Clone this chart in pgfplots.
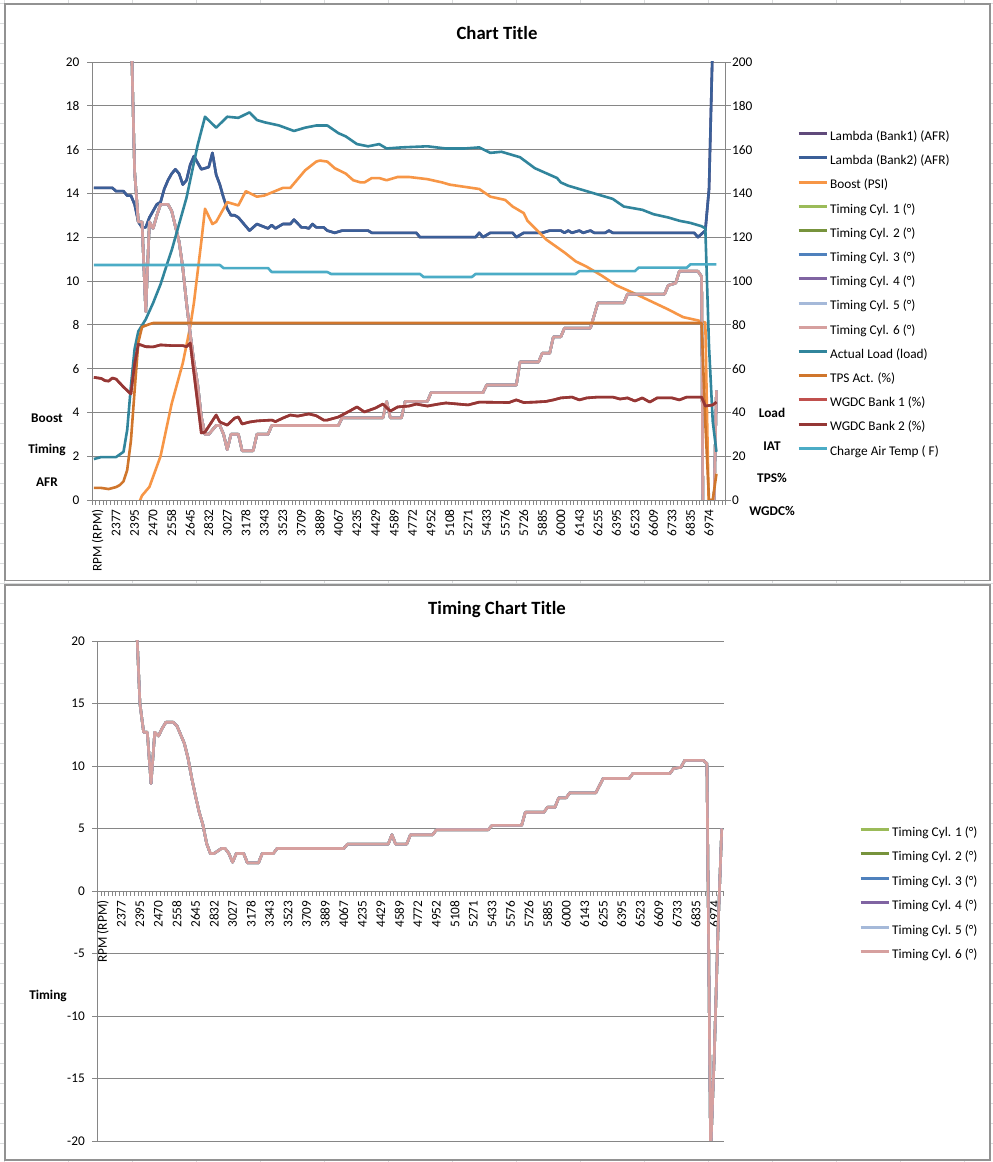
\documentclass[border=0pt]{standalone}
\usepackage{fontspec}
\setmainfont{Carlito}
\usepackage{pgfplots}
\pgfplotsset{compat=1.18}
\usepackage{pgfplotstable}

\definecolor{lamA}{HTML}{604A7B}
\definecolor{lamB}{HTML}{3B5F98}
\definecolor{boost}{HTML}{F79646}
\definecolor{tA}{HTML}{9BBB59}
\definecolor{tB}{HTML}{77933C}
\definecolor{tC}{HTML}{4F81BD}
\definecolor{tD}{HTML}{8064A2}
\definecolor{tE}{HTML}{A5B9D9}
\definecolor{tF}{HTML}{D6A09F}
\definecolor{load}{HTML}{31859C}
\definecolor{tps}{HTML}{D0762C}
\definecolor{wgA}{HTML}{C0504D}
\definecolor{wgB}{HTML}{953735}
\definecolor{cat}{HTML}{4BACC6}
\definecolor{gridc}{HTML}{868686}
\definecolor{sheet}{HTML}{DADCDD}

\pgfplotstableread{
i v
0 14.25
5 14.25
6 14.1
8 14.1
9 13.9
10 13.9
11 13.5
12 12.7
13 12.45
14 12.45
15 12.9
16 13.2
17 13.5
18 13.6
19 14.2
20 14.6
21 14.9
22 15.1
23 14.9
24 14.4
25 14.6
26 15.3
27 15.7
28 15.4
29 15.1
30 15.15
31 15.2
32 15.85
33 14.85
34 14.4
35 13.8
36 13.3
37 13.0
38 13.0
39 12.9
42 12.3
44 12.6
47 12.4
48 12.55
49 12.4
51 12.6
53 12.6
54 12.8
56 12.45
57 12.45
58 12.4
59 12.6
60 12.45
62 12.45
63 12.3
65 12.2
67 12.3
74 12.3
75 12.2
87 12.2
88 12.0
103 12.0
104 12.2
105 12.0
107 12.2
113 12.2
114 12.0
116 12.2
121 12.2
123 12.3
126 12.3
127 12.2
128 12.3
129 12.2
131 12.3
132 12.2
134 12.3
135 12.2
138 12.2
139 12.3
140 12.2
162 12.2
163 12.0
165 12.3
166 14.2
167 21
168 30
}\tLam

\pgfplotstableread{
i v
0 -3
11 -3
12 -0.2
13 0.2
15 0.6
18 2.0
21 4.4
24 6.25
26 7.9
27 9.0
28 10.4
29 11.8
30 13.3
32 12.6
33 12.7
36 13.6
38 13.5
39 13.45
41 14.1
44 13.85
46 13.9
51 14.25
53 14.25
57 15.05
60 15.45
61 15.5
63 15.45
65 15.15
68 14.9
70 14.6
72 14.5
73 14.5
75 14.7
77 14.7
79 14.6
82 14.75
85 14.75
90 14.65
94 14.5
96 14.4
100 14.3
102 14.25
104 14.2
107 13.85
111 13.7
113 13.4
116 13.1
117 12.75
120 12.25
122 11.9
127 11.3
130 10.9
133 10.65
137 10.25
141 9.8
145 9.5
150 9.1
155 8.7
159 8.35
163 8.2
165 8.1
166 -1
169 -1
}\tBoost

\pgfplotstableread{
i v
0 30
9 30
10 22
11 15
12 12.7
13 12.7
14 8.6
15 12.7
16 12.4
17 13.0
18 13.5
20 13.5
21 13.2
22 12.5
23 11.8
24 10.6
25 9.0
26 7.6
27 6.3
28 5.3
29 3.8
30 3.0
31 3.0
32 3.2
33 3.4
34 3.4
35 3.0
36 2.3
37 3.0
39 3.0
40 2.25
43 2.25
44 3.0
47 3.0
48 3.4
66 3.4
67 3.75
78 3.75
79 4.5
80 3.75
83 3.75
84 4.5
90 4.5
91 4.9
105 4.9
106 5.25
114 5.25
115 6.3
120 6.3
121 6.7
123 6.7
124 7.45
126 7.45
127 7.85
134 7.85
136 9.0
143 9.0
144 9.4
154 9.4
155 9.8
157 9.9
158 10.45
163 10.45
164 10.2
165 -21
166 -13
167 -3
168 5
}\tTim

\pgfplotstableread{
i v
0 18.7
2 19.6
6 19.6
8 22
9 32
10 52
11 69
12 77
14 82.5
16 90
18 98.5
20 109
21 114
23 126
25 138
28 162
30 175
33 170
36 175
39 174.5
42 177
44 173.5
46 172.5
50 171
54 168.5
57 170
60 171
63 171
66 167.5
68 166
71 162.5
74 161.5
77 162.5
79 160.5
83 161
90 161.5
95 160.5
100 160.5
104 161
107 158.5
110 159
113 157.5
115 156.5
117 154
119 151.5
121 150
123 148.5
125 147
126 145
128 143.5
131 142
135 140
137 139
140 137.5
143 134
148 132.5
151 130.5
155 129
158 127.5
161 126.5
164 125
165 124
166 70
167 36
168 22
}\tLoad

\pgfplotstableread{
i v
0 5.5
2 5.5
4 5.0
6 5.9
7 6.8
8 8.5
9 13.7
10 27
11 50
12 72
13 79
15 80.3
16 80.8
164 80.8
165 35
166 0
167 0
168 12
}\tTps

\pgfplotstableread{
i v
0 56
2 55.5
3 54.5
4 54.3
5 55.7
6 55.2
8 51.6
10 48.4
11 62
12 71.2
14 70
16 69.9
18 70.8
21 70.5
24 70.5
25 70
26 71.7
29 30.6
30 31
33 38.8
34 35.6
36 34.2
38 37.4
39 37.9
40 34.7
42 35.6
44 36.1
48 36.5
49 35.8
51 37.4
53 38.8
55 38.3
58 39.3
60 38.5
62 36.5
63 36.5
66 37.9
67 38.8
69 40.6
71 42.5
73 40.2
76 42.0
78 43.8
80 40.6
82 42.5
85 42.9
87 43.8
90 42.9
93 43.8
95 44.3
101 43.4
104 44.7
112 44.5
114 45.7
116 44.5
119 44.7
122 45.0
124 45.7
126 46.6
129 47.0
131 45.7
133 46.6
136 47.0
140 47.0
142 46.1
144 46.6
146 45.2
148 46.6
150 44.7
152 46.6
156 46.6
158 45.7
160 47.0
164 47.0
165 42.9
167 43.4
168 44.7
}\tWg

\pgfplotstableread{
i v
0 107.3
34 107.3
35 105.9
47 105.9
48 104.1
63 104.1
64 103.2
88 103.2
89 101.8
102 101.8
103 103.2
130 103.2
131 104.5
146 104.5
147 106.1
160 106.1
161 107.6
168 107.6
}\tCat

\pgfplotsset{
  base/.style={
    scale only axis,
    tick label style={font=\fontsize{13.3}{14}\selectfont},
    /pgf/number format/assume math mode=true,
    axis line style={gridc, line width=0.9pt},
    tick style={gridc, line width=0.9pt},
    major grid style={gridc, line width=0.9pt},
    tick align=outside,
    major tick length=5pt,
    every axis plot/.append style={line width=2.6pt, line join=round, no markers},
    legend cell align=left,
    legend image code/.code={\draw[##1, line width=3pt] (0pt,3.3pt) -- (28pt,3.3pt);},
  },
  rpmx/.style={
    xticklabels={},
    extra x ticks={1,6,...,166},
    extra x tick labels={{RPM (RPM)},2377,2395,2470,2558,2645,2832,3027,3178,3343,3523,3709,3889,4067,4235,4429,4589,4772,4952,5108,5271,5433,5576,5726,5885,6000,6143,6255,6395,6523,6609,6733,6835,6974},
    extra x tick style={major tick length=0pt, xticklabel style={yshift=-6pt, rotate=90, anchor=east}},
  },
}

\begin{document}
\begin{tikzpicture}
\useasboundingbox (0pt,0pt) rectangle (993pt,1162pt);
\begin{scope}[x=1pt,y=1pt]
% spreadsheet background
\foreach \k in {0,...,15} {\draw[sheet, line width=0.8pt] (4.3+64*\k,0) -- (4.3+64*\k,1162);}
\foreach \k in {0,...,58} {\draw[sheet, line width=0.8pt] (0,1159-20*\k) -- (993,1159-20*\k);}
% chart boxes
\draw[gridc!90, line width=1.3pt, fill=white] (5,1158) rectangle (990,581.5);
\draw[gridc!90, line width=1.3pt, fill=white] (5,577) rectangle (990,2);
\node[font=\bfseries\fontsize{18.7}{20}\selectfont] at (497,1129) {Chart Title};
\node[font=\bfseries\fontsize{18.7}{20}\selectfont] at (497,552) {Timing Chart Title};
\end{scope}

% ---------------- top chart ----------------
\begin{axis}[base, rpmx,
  at={(92pt,662pt)}, anchor=south west, width=633.7pt, height=438pt,
  xmin=-0.5, xmax=170.5, ymin=0, ymax=20,
  axis lines*=left,
  xtick={-0.5,0.5,...,170.5},
  ytick={0,2,...,20}, ymajorgrids,
  yticklabel style={xshift=-4pt},
]
\addplot[lamA] table[x=i,y=v]{\tLam};
\addplot[lamB] table[x=i,y=v]{\tLam};
\addplot[boost] table[x=i,y=v]{\tBoost};
\addplot[tA] table[x=i,y=v]{\tTim};
\addplot[tB] table[x=i,y=v]{\tTim};
\addplot[tC] table[x=i,y=v]{\tTim};
\addplot[tD] table[x=i,y=v]{\tTim};
\addplot[tE] table[x=i,y=v]{\tTim};
\addplot[tF] table[x=i,y=v]{\tTim};
\end{axis}

\begin{axis}[base,
  at={(92pt,662pt)}, anchor=south west, width=633.7pt, height=438pt,
  xmin=-0.5, xmax=170.5, ymin=0, ymax=200,
  axis y line*=right, axis x line=none,
  ytick={0,20,...,200},
  yticklabel style={xshift=-2pt},
  legend style={at={(1.1123,0.843)}, anchor=north west, draw=none, fill=none,
    font=\fontsize{13.3}{14}\selectfont, inner sep=0pt, row sep=12.2pt,
    nodes={inner sep=0pt, text height=9.5pt, text depth=2.5pt},
    /tikz/every odd column/.append style={column sep=2pt}},
]
\addlegendimage{lamA}
\addlegendimage{lamB}
\addlegendimage{boost}
\addlegendimage{tA}
\addlegendimage{tB}
\addlegendimage{tC}
\addlegendimage{tD}
\addlegendimage{tE}
\addlegendimage{tF}
\addplot[load] table[x=i,y=v]{\tLoad};
\addplot[tps] table[x=i,y=v]{\tTps};
\addplot[wgA] table[x=i,y=v]{\tWg};
\addplot[wgB] table[x=i,y=v]{\tWg};
\addplot[cat] table[x=i,y=v]{\tCat};
\legend{Lambda (Bank1) (AFR),Lambda (Bank2) (AFR),Boost (PSI),Timing Cyl. 1 (°),Timing Cyl. 2 (°),Timing Cyl. 3 (°),Timing Cyl. 4 (°),Timing Cyl. 5 (°),Timing Cyl. 6 (°),Actual Load (load),TPS Act. (\%),WGDC Bank 1 (\%),WGDC Bank 2 (\%),Charge Air Temp ( F)}
\end{axis}

\begin{scope}[x=1pt,y=1pt,font=\bfseries\fontsize{13.3}{14}\selectfont]
\node at (47,744) {Boost};
\node at (47,712) {Timing};
\node at (47,680) {AFR};
\node at (772,749) {Load};
\node at (772,716) {IAT};
\node at (772,684) {TPS\%};
\node at (772,651) {WGDC\%};
\node at (48,166) {Timing};
\end{scope}

% ---------------- bottom chart ----------------
\begin{axis}[base, rpmx,
  at={(97.3pt,21pt)}, anchor=south west, width=626.3pt, height=500pt,
  xmin=-0.5, xmax=168.5, ymin=-20, ymax=20,
  axis x line*=middle, axis y line*=left,
  xtick={-0.5,0.5,...,168.5},
  ytick={-20,-15,...,20}, ymajorgrids,
  yticklabel style={xshift=-4pt},
  legend style={at={(1.2162,0.629)}, anchor=north west, draw=none, fill=none,
    font=\fontsize{13.3}{14}\selectfont, inner sep=0pt, row sep=12.5pt,
    nodes={inner sep=0pt, text height=9.5pt, text depth=2.5pt},
    /tikz/every odd column/.append style={column sep=2pt}},
]
\addplot[tA] table[x=i,y=v]{\tTim};
\addplot[tB] table[x=i,y=v]{\tTim};
\addplot[tC] table[x=i,y=v]{\tTim};
\addplot[tD] table[x=i,y=v]{\tTim};
\addplot[tE] table[x=i,y=v]{\tTim};
\addplot[tF] table[x=i,y=v]{\tTim};
\legend{Timing Cyl. 1 (°),Timing Cyl. 2 (°),Timing Cyl. 3 (°),Timing Cyl. 4 (°),Timing Cyl. 5 (°),Timing Cyl. 6 (°)}
\end{axis}
\end{tikzpicture}
\end{document}
